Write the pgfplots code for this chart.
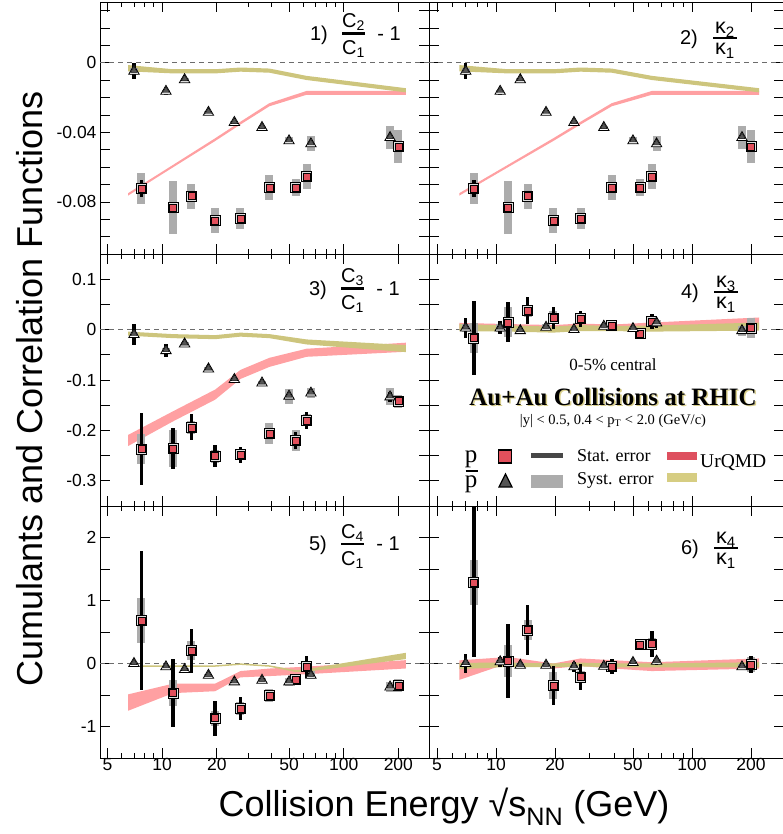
\documentclass[border=0pt]{standalone}
\usepackage{pgfplots}
\pgfplotsset{compat=1.18}
\usepackage{pgfplotstable}
\usepackage{fontspec}
\setmainfont{Liberation Sans}
\newfontfamily\seriff{Liberation Serif}
\definecolor{pred}{RGB}{226,80,92}
\definecolor{sysgray}{RGB}{172,172,172}
\definecolor{bandred}{RGB}{255,160,162}
\definecolor{bandyel}{RGB}{205,197,125}
\definecolor{trigray}{RGB}{85,85,85}
\definecolor{legred}{RGB}{222,80,95}
\definecolor{legyel}{RGB}{214,205,130}
\definecolor{shadowyel}{RGB}{218,208,140}

% ---------- data: x  value  stat  syst ----------
\pgfplotstableread{
x y st sy
7.7 -0.0723 0.005 0.009
11.5 -0.0833 0.001 0.0154
14.5 -0.0767 0.001 0.0072
19.6 -0.0906 0.001 0.0073
27 -0.0896 0.001 0.0058
39 -0.0717 0.001 0.007
54.4 -0.0717 0.001 0.0048
62.4 -0.0655 0.001 0.007
200 -0.0482 0.001 0.0093
}\pA
\pgfplotstableread{
x y st sy
7.0 -0.0048 0.0048 0.002
10.5 -0.0164 0.002 0.001
13.3 -0.0097 0.001 0.001
18 -0.0285 0.001 0.001
25 -0.0343 0.001 0.001
35.5 -0.0372 0.001 0.001
50 -0.0449 0.0015 0.002
66 -0.0466 0.001 0.0043
180 -0.043 0.001 0.0067
}\bA
\pgfplotstableread{
x y st sy
7.7 -0.237 0.071 0.03
11.5 -0.236 0.041 0.036
14.5 -0.194 0.026 0.013
19.6 -0.251 0.022 0.013
27 -0.248 0.016 0.01
39 -0.206 0.01 0.021
54.4 -0.220 0.016 0.02
62.4 -0.180 0.017 0.012
200 -0.142 0.005 0.013
}\pC
\pgfplotstableread{
x y st sy
7.0 -0.0099 0.021 0.005
10.5 -0.0417 0.013 0.005
13.3 -0.0284 0.005 0.003
18 -0.078 0.004 0.003
25 -0.099 0.004 0.003
35.5 -0.106 0.004 0.004
50 -0.132 0.006 0.015
66 -0.126 0.005 0.01
180 -0.1335 0.01 0.017
}\bC
\pgfplotstableread{
x y st sy
7.7 -0.0165 0.073 0.03
11.5 0.0146 0.04 0.03
14.5 0.0377 0.027 0.012
19.6 0.0232 0.022 0.013
27 0.0218 0.016 0.01
39 0.0086 0.006 0.006
54.4 -0.0079 0.005 0.008
62.4 0.0165 0.015 0.01
200 0.0033 0.005 0.02
}\pD
\pgfplotstableread{
x y st sy
7.0 0.0033 0.02 0.008
10.5 0.0033 0.013 0.008
13.3 -0.002 0.004 0.004
18 0.0046 0.006 0.006
25 0.0 0.004 0.004
35.5 0.0066 0.004 0.004
50 0.002 0.004 0.004
66 0.0133 0.01 0.006
180 -0.002 0.005 0.01
}\bD
\pgfplotstableread{
x y st sy
7.7 0.682 1.10 0.36
11.5 -0.468 0.54 0.21
14.5 0.203 0.35 0.15
19.6 -0.868 0.28 0.12
27 -0.719 0.18 0.10
39 -0.511 0.08 0.10
54.4 -0.256 0.07 0.08
62.4 -0.053 0.17 0.08
200 -0.346 0.05 0.10
}\pE
\pgfplotstableread{
x y st sy
7.0 0.0 0.03 0.02
10.5 -0.053 0.03 0.02
13.3 -0.096 0.03 0.02
18 -0.187 0.03 0.02
25 -0.292 0.03 0.03
35.5 -0.266 0.03 0.03
50 -0.292 0.04 0.06
66 -0.187 0.05 0.06
180 -0.373 0.05 0.08
}\bE
\pgfplotstableread{
x y st sy
7.7 1.289 1.19 0.36
11.5 0.037 0.59 0.25
14.5 0.532 0.39 0.16
19.6 -0.346 0.31 0.21
27 -0.213 0.21 0.10
39 -0.053 0.12 0.08
54.4 0.304 0.03 0.08
62.4 0.31 0.20 0.10
200 -0.016 0.13 0.12
}\pF
\pgfplotstableread{
x y st sy
7.0 0.0 0.15 0.03
10.5 0.027 0.08 0.03
13.3 -0.027 0.03 0.03
18 -0.027 0.03 0.03
25 -0.053 0.08 0.03
35.5 -0.043 0.03 0.03
50 0.016 0.03 0.03
66 0.037 0.06 0.04
180 -0.053 0.05 0.05
}\bF

\pgfplotsset{
  mypanel/.style={
    scale only axis, height=252pt,
    xmin=4.55, xmax=295,
    xtick={5,10,20,50,100,200},
    minor xtick={6,7,8,9,30,40,60,70,80,90},
    tick align=inside, xtick pos=both, ytick pos=both,
    major tick length=10pt, minor tick length=5pt,
    every tick/.style={black, line width=0.7pt},
    axis line style={line width=0.8pt},
    ticklabel style={font=\fontsize{17.5}{21}\selectfont},
    xticklabel style={yshift=3pt},
    clip=true,
  },
  sq/.style={only marks, mark=square*, mark size=5pt, mark options={fill=gray!25, draw=black, line width=0.7pt}},
  sqin/.style={only marks, mark=square*, mark size=3.5pt, mark options={fill=pred, draw=none}},
  tri/.style={only marks, mark=triangle*, mark size=6pt, mark options={fill=white, draw=black, line width=0.8pt}},
  triin/.style={only marks, mark=triangle*, mark size=3.9pt, mark options={fill=trigray, draw=none, yshift=0.8pt}},
}

\newcommand\drawpanel[4]{%
  \addplot[gray!85!black, dash pattern=on 5pt off 4pt, line width=0.7pt] coordinates {(4.55,0) (295,0)};
  \addplot[fill=bandred, draw=none] coordinates {#3};
  \addplot[fill=bandyel, draw=none] coordinates {#4};
  \addplot[only marks, mark=none, error bars/.cd, y dir=both, y explicit, error mark=none,
    error bar style={line width=8pt, draw=sysgray}] table[x=x,y=y,y error=sy] {#2};
  \addplot[only marks, mark=none, error bars/.cd, y dir=both, y explicit, error mark=none,
    error bar style={line width=8pt, draw=sysgray}] table[x=x,y=y,y error=sy] {#1};
  \addplot[only marks, mark=none, error bars/.cd, y dir=both, y explicit, error mark=none,
    error bar style={line width=3.5pt, draw=black}] table[x=x,y=y,y error=st] {#2};
  \addplot[only marks, mark=none, error bars/.cd, y dir=both, y explicit, error mark=none,
    error bar style={line width=3.5pt, draw=black}] table[x=x,y=y,y error=st] {#1};
  \addplot[sq] table[x=x,y=y] {#1};
  \addplot[sqin] table[x=x,y=y] {#1};
  \addplot[tri] table[x=x,y=y] {#2};
  \addplot[triin] table[x=x,y=y] {#2};
}

\newcommand\lbf{\fontsize{20}{23}\selectfont}
\newcommand\kbf{\fontsize{21.5}{24}\selectfont}
% #1 x of label, #2 y of bar, #3 label, #4 num, #5 den, #6 suffix, #7 den offset
\newcommand\plab[7]{%
  \node[anchor=base, font=\lbf] at (#1,#2-7) {#3};
  \draw[line width=2.6pt] (#1+23,#2) -- (#1+46,#2);
  \node[anchor=base, font=\lbf] at (#1+34.5,#2+5.5) {#4};
  \node[anchor=base, font=\lbf] at (#1+34.5,#2-#7) {#5};
  \node[anchor=base, font=\lbf] at (#1+70,#2-7) {#6};
}
\newcommand\plabk[5]{%
  \node[anchor=base, font=\lbf] at (#1,#2-7) {#3};
  \draw[line width=2.6pt] (#1+24,#2) -- (#1+48,#2);
  \node[anchor=base, font=\kbf] at (#1+36,#2+4) {#4};
  \node[anchor=base, font=\kbf] at (#1+36,#2-17) {#5};
}

\begin{document}
\begin{tikzpicture}[x=1pt,y=1pt]
\path[use as bounding box] (0,0) rectangle (783,834);

% ---------- panel 1 ----------
\begin{axis}[xmode=log, mypanel, anchor=south west, at={(100pt,580pt)}, width=329pt, ymin=-0.11, ymax=0.035,
  ytick={-0.1,-0.09,-0.08,-0.07,-0.06,-0.05,-0.04,-0.03,-0.02,-0.01,0,0.01,0.02,0.03},
  yticklabels={,,-0.08,,,,-0.04,,,,0,,,}, xticklabels={}]
\drawpanel{\pA}{\bA}
 {(6.5,-0.0750) (11.5,-0.0587) (19.6,-0.0434) (27,-0.0339) (39,-0.0232) (62.4,-0.0162) (220,-0.0161) (220,-0.0185) (62.4,-0.0184) (39,-0.0250) (27,-0.0355) (19.6,-0.0450) (11.5,-0.0601) (6.5,-0.0764)}
 {(6.5,-0.0013) (11.5,-0.0037) (19.6,-0.0037) (27,-0.0027) (39,-0.0033) (62.4,-0.0075) (220,-0.0146) (220,-0.0170) (62.4,-0.0099) (39,-0.0057) (27,-0.0051) (19.6,-0.0061) (11.5,-0.0061) (6.5,-0.0049)}
\end{axis}
% ---------- panel 2 ----------
\begin{axis}[xmode=log, mypanel, anchor=south west, at={(429pt,580pt)}, width=355pt, ymin=-0.11, ymax=0.035,
  ytick={-0.1,-0.09,-0.08,-0.07,-0.06,-0.05,-0.04,-0.03,-0.02,-0.01,0,0.01,0.02,0.03},
  yticklabels={}, xticklabels={}]
\drawpanel{\pA}{\bA}
 {(6.5,-0.0750) (11.5,-0.0587) (19.6,-0.0434) (27,-0.0339) (39,-0.0232) (62.4,-0.0162) (220,-0.0161) (220,-0.0185) (62.4,-0.0184) (39,-0.0250) (27,-0.0355) (19.6,-0.0450) (11.5,-0.0601) (6.5,-0.0764)}
 {(6.5,-0.0013) (11.5,-0.0037) (19.6,-0.0037) (27,-0.0027) (39,-0.0033) (62.4,-0.0075) (220,-0.0146) (220,-0.0170) (62.4,-0.0099) (39,-0.0057) (27,-0.0051) (19.6,-0.0061) (11.5,-0.0061) (6.5,-0.0049)}
\end{axis}
% ---------- panel 3 ----------
\begin{axis}[xmode=log, mypanel, anchor=south west, at={(100pt,328pt)}, width=329pt, ymin=-0.35, ymax=0.15,
  ytick={-0.3,-0.25,-0.2,-0.15,-0.1,-0.05,0,0.05,0.1},
  yticklabels={-0.3,,-0.2,,-0.1,,0,,0.1}, xticklabels={}]
\drawpanel{\pC}{\bC}
 {(6.5,-0.209) (11.5,-0.162) (19.6,-0.119) (27,-0.080) (39,-0.056) (62.4,-0.038) (220,-0.026) (220,-0.044) (62.4,-0.054) (39,-0.074) (27,-0.098) (19.6,-0.139) (11.5,-0.182) (6.5,-0.231)}
 {(6.5,-0.004) (11.5,-0.009) (19.6,-0.011) (27,-0.006) (39,-0.009) (62.4,-0.0195) (220,-0.0307) (220,-0.0447) (62.4,-0.0295) (39,-0.017) (27,-0.014) (19.6,-0.019) (11.5,-0.017) (6.5,-0.012)}
\end{axis}
% ---------- panel 4 ----------
\begin{axis}[xmode=log, mypanel, anchor=south west, at={(429pt,328pt)}, width=355pt, ymin=-0.35, ymax=0.15,
  ytick={-0.3,-0.25,-0.2,-0.15,-0.1,-0.05,0,0.05,0.1},
  yticklabels={}, xticklabels={}]
\drawpanel{\pD}{\bD}
 {(6.5,0.0132) (11.5,0.011) (19.6,0.009) (27,0.012) (39,0.010) (62.4,0.014) (220,0.024) (220,0.002) (62.4,0.002) (39,0.0) (27,0.002) (19.6,-0.001) (11.5,0.001) (6.5,0.002)}
 {(6.5,0.011) (11.5,0.008) (19.6,0.006) (27,0.009) (39,0.007) (62.4,0.008) (220,0.014) (220,-0.002) (62.4,-0.004) (39,-0.003) (27,-0.003) (19.6,-0.006) (11.5,-0.004) (6.5,-0.003)}
\end{axis}
% ---------- panel 5 ----------
\begin{axis}[xmode=log, mypanel, anchor=south west, at={(100pt,76pt)}, width=329pt, ymin=-1.5, ymax=2.5,
  ytick={-1,-0.5,0,0.5,1,1.5,2},
  yticklabels={-1,,0,,1,,2},
  xticklabels={5,10,20,50,100,200}]
\drawpanel{\pE}{\bE}
 {(6.5,-0.49) (11.5,-0.32) (19.6,-0.32) (27,-0.12) (39,-0.08) (62.4,-0.05) (220,0.053) (220,-0.079) (62.4,-0.17) (39,-0.20) (27,-0.22) (19.6,-0.44) (11.5,-0.47) (6.5,-0.75)}
 {(7.7,-0.028) (11.5,-0.028) (19.6,-0.028) (27,0.002) (39,-0.028) (54.4,-0.105) (62.4,-0.09) (220,0.17) (220,0.07) (62.4,-0.13) (54.4,-0.135) (39,-0.052) (27,-0.022) (19.6,-0.052) (11.5,-0.052) (7.7,-0.052)}
\end{axis}
% ---------- panel 6 ----------
\begin{axis}[xmode=log, mypanel, anchor=south west, at={(429pt,76pt)}, width=355pt, ymin=-1.5, ymax=2.5,
  ytick={-1,-0.5,0,0.5,1,1.5,2},
  yticklabels={},
  xticklabels={5,10,20,50,100,200}]
\drawpanel{\pF}{\bF}
 {(6.5,0.05) (11.5,0.103) (19.6,0.0) (27,0.08) (39,0.053) (62.4,0.02) (220,0.08) (220,-0.08) (62.4,-0.12) (39,-0.079) (27,-0.04) (19.6,-0.08) (11.5,0.003) (6.5,-0.26)}
 {(6.5,0.01) (11.5,0.015) (19.6,0.0) (27,0.014) (39,0.0) (62.4,0.0) (220,0.02) (220,-0.06) (62.4,-0.06) (39,-0.06) (27,-0.046) (19.6,-0.06) (11.5,-0.055) (6.5,-0.09)}
\end{axis}

% ---------- panel labels ----------
\plab{319}{800.7}{1)}{C\textsubscript{2}}{C\textsubscript{1}}{- 1}{21.5}
\plabk{689}{796}{2)}{κ\textsubscript{2}}{κ\textsubscript{1}}
\plab{318}{545.7}{3)}{C\textsubscript{3}}{C\textsubscript{1}}{- 1}{21.5}
\plabk{690}{542}{4)}{κ\textsubscript{3}}{κ\textsubscript{1}}
\plab{318}{290}{5)}{C\textsubscript{4}}{C\textsubscript{1}}{- 1}{21.5}
\plabk{690}{286}{6)}{κ\textsubscript{4}}{κ\textsubscript{1}}

% ---------- legend block in panel 4 ----------
\node[font=\seriff\fontsize{17}{20}\selectfont] at (613,469) {0-5\% central};
\node[font=\seriff\bfseries\fontsize{25}{28}\selectfont, text=shadowyel] at (614.6,435.6) {Au+Au Collisions at RHIC};
\node[font=\seriff\bfseries\fontsize{25}{28}\selectfont] at (613,437) {Au+Au Collisions at RHIC};
\node[font=\seriff\fontsize{14.5}{17}\selectfont] at (613,413) {|y| < 0.5, 0.4 < p\textsubscript{T} < 2.0 (GeV/c)};
\node[anchor=base, font=\seriff\fontsize{25}{28}\selectfont] at (471,371.4) {p};
\node[anchor=base, font=\seriff\fontsize{25}{28}\selectfont] at (471,346.4) {p};
\draw[line width=1.4pt] (465.5,363) -- (477.5,363);
\filldraw[fill=pred, draw=black, line width=1.6pt] (498.5,371) rectangle (511.5,384);
\filldraw[fill=trigray, draw=black, line width=1.2pt] (499,347) -- (512,347) -- (505.5,360) -- cycle;
\fill[black!72] (531,375.5) rectangle (563,380.5);
\fill[sysgray] (531,346) rectangle (563,359);
\node[anchor=base west, inner sep=0pt, font=\seriff\fontsize{18}{21}\selectfont] at (577,372) {Stat. error};
\node[anchor=base west, inner sep=0pt, font=\seriff\fontsize{18}{21}\selectfont] at (577,349) {Syst. error};
\fill[legred] (667,374) rectangle (697,382);
\fill[legyel] (667,352) rectangle (697,361);
\node[anchor=base west, inner sep=0pt, font=\seriff\fontsize{19.5}{22}\selectfont] at (700,366) {UrQMD};

% ---------- axis titles ----------
\node[rotate=90, font=\fontsize{36}{42}\selectfont] at (30,445) {Cumulants and Correlation Functions};
\node[anchor=base, font=\fontsize{36}{42}\selectfont] at (444,17) {Collision Energy √s\textsubscript{NN} (GeV)};
\end{tikzpicture}
\end{document}
